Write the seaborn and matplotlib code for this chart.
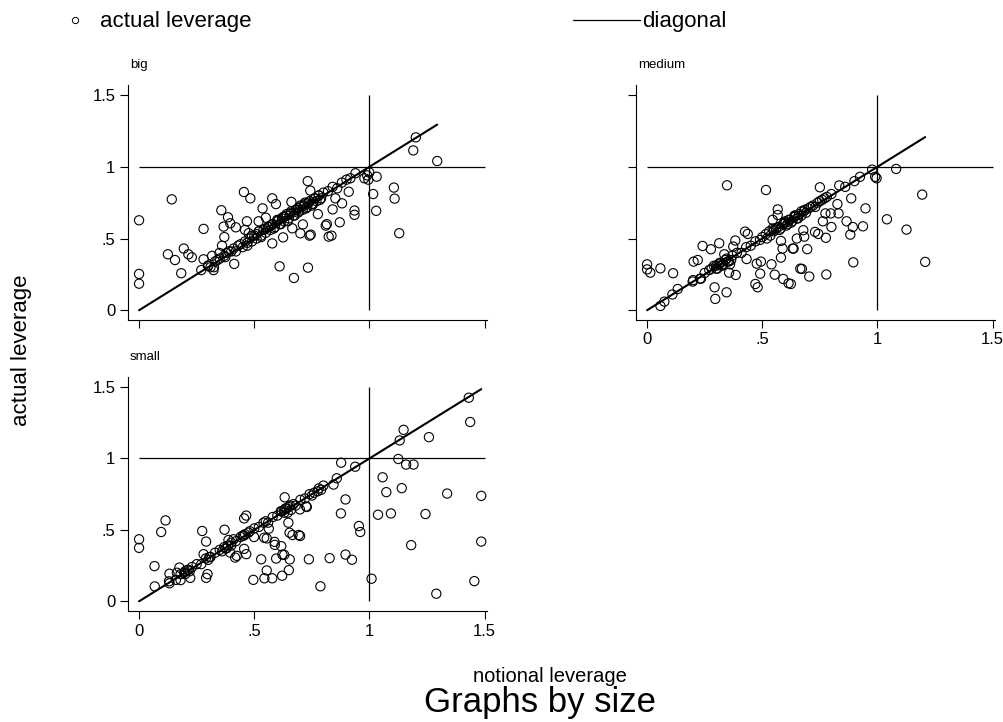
import numpy as np
import pandas as pd
import matplotlib
matplotlib.use("Agg")
import matplotlib.pyplot as plt
import seaborn as sns
from matplotlib.lines import Line2D

# ---------------- data ----------------
big_notional = [0.0, 0.0, 0.0, 0.142, 0.125, 0.156, 0.183, 0.194, 0.214, 0.229, 0.28, 0.28, 0.30, 0.323,
                0.325, 0.317, 0.349, 0.357, 0.367, 0.386, 0.396, 0.42, 0.413, 0.37, 0.374, 0.36, 0.455,
                0.483, 0.468, 0.46, 0.476, 0.519, 0.536, 0.55, 0.578, 0.594, 0.578, 0.61, 0.625, 0.661,
                0.665, 0.672, 0.70, 0.711, 0.732, 0.743, 0.74, 0.745, 0.733, 0.776, 0.823, 0.835, 0.815,
                0.81, 0.84, 0.871, 0.881, 0.935, 0.935, 0.91, 0.852, 1.016, 1.029, 1.031, 1.106, 1.109,
                1.129, 1.19, 1.294, 1.201,
                # near the diagonal
                0.27, 0.30, 0.31, 0.33, 0.35, 0.37, 0.38, 0.40, 0.41, 0.42, 0.44, 0.45, 0.46, 0.47,
                0.48, 0.49, 0.50, 0.51, 0.52, 0.53, 0.54, 0.55, 0.56, 0.57, 0.58, 0.59, 0.60, 0.61,
                0.62, 0.63, 0.64, 0.65, 0.66, 0.67, 0.68, 0.69, 0.70, 0.71, 0.72, 0.73, 0.74, 0.75,
                0.76, 0.77, 0.78, 0.79, 0.80, 0.82, 0.84, 0.86, 0.88, 0.90, 0.917, 0.939, 0.978, 0.99,
                0.999, 0.995, 0.55, 0.60, 0.63, 0.66, 0.69, 0.72, 0.75, 0.52, 0.58, 0.64, 0.70, 0.78,
                0.47, 0.49, 0.53, 0.565, 0.585, 0.605, 0.615, 0.625, 0.645, 0.655, 0.675, 0.685,
                0.695, 0.715, 0.725, 0.735, 0.755, 0.765, 0.785, 0.43, 0.39, 0.34, 0.51, 0.57]
big_actual = [0.627, 0.253, 0.185, 0.773, 0.39, 0.35, 0.258, 0.43, 0.39, 0.369, 0.567, 0.355, 0.312, 0.28,
              0.30, 0.379, 0.399, 0.697, 0.583, 0.648, 0.606, 0.578, 0.323, 0.51, 0.37, 0.45, 0.824,
              0.78, 0.62, 0.56, 0.537, 0.62, 0.71, 0.645, 0.78, 0.74, 0.466, 0.306, 0.508, 0.755,
              0.571, 0.225, 0.536, 0.598, 0.90, 0.834, 0.52, 0.527, 0.297, 0.67, 0.513, 0.52, 0.60,
              0.59, 0.703, 0.613, 0.745, 0.695, 0.665, 0.826, 0.78, 0.81, 0.693, 0.931, 0.855, 0.778,
              0.537, 1.114, 1.04, 1.205,
              0.28, 0.31, 0.30, 0.34, 0.36, 0.38, 0.40, 0.41, 0.43, 0.41, 0.46, 0.44, 0.48, 0.47,
              0.50, 0.48, 0.52, 0.50, 0.55, 0.52, 0.56, 0.54, 0.58, 0.56, 0.60, 0.58, 0.62, 0.60,
              0.64, 0.62, 0.66, 0.64, 0.68, 0.66, 0.70, 0.68, 0.72, 0.70, 0.74, 0.72, 0.76, 0.74,
              0.78, 0.76, 0.80, 0.78, 0.82, 0.83, 0.86, 0.85, 0.89, 0.91, 0.92, 0.955, 0.92, 0.94,
              0.96, 0.91, 0.57, 0.63, 0.65, 0.69, 0.71, 0.75, 0.73, 0.55, 0.60, 0.67, 0.73, 0.80,
              0.45, 0.52, 0.51, 0.58, 0.57, 0.63, 0.60, 0.65, 0.62, 0.67, 0.66, 0.70,
              0.69, 0.73, 0.71, 0.75, 0.74, 0.78, 0.77, 0.45, 0.41, 0.35, 0.53, 0.59]

medium_notional = [0.0, 0.0, 0.014, 0.058, 0.113, 0.058, 0.075, 0.11, 0.133, 0.198, 0.202, 0.22, 0.234,
                   0.241, 0.277, 0.313, 0.293, 0.296, 0.345, 0.347, 0.356, 0.385, 0.335, 0.36, 0.383,
                   0.374, 0.432, 0.425, 0.437, 0.47, 0.48, 0.476, 0.494, 0.491, 0.516, 0.54, 0.554,
                   0.581, 0.588, 0.581, 0.591, 0.614, 0.567, 0.567, 0.636, 0.632, 0.65, 0.665, 0.545,
                   0.56, 0.624, 0.672, 0.704, 0.778, 0.895, 0.695, 0.682, 0.678, 0.729, 0.743, 0.776,
                   0.763, 0.80, 0.882, 0.893, 0.937, 0.866, 0.797, 0.774, 0.831, 0.826, 0.948, 0.886,
                   0.75, 1.081, 1.194, 1.041, 1.126, 1.207,
                   # near the diagonal
                   0.20, 0.23, 0.25, 0.27, 0.28, 0.29, 0.30, 0.31, 0.32, 0.33, 0.34, 0.35, 0.37, 0.39,
                   0.41, 0.43, 0.45, 0.47, 0.49, 0.50, 0.52, 0.53, 0.55, 0.56, 0.57, 0.58, 0.59, 0.60,
                   0.61, 0.62, 0.63, 0.64, 0.65, 0.66, 0.67, 0.68, 0.69, 0.70, 0.72, 0.74, 0.76, 0.78,
                   0.80, 0.834, 0.86, 0.90, 0.924, 0.977, 0.99, 0.996, 0.30, 0.33, 0.55, 0.60, 0.64,
                   0.67, 0.71, 0.305, 0.315, 0.325, 0.345, 0.355, 0.365, 0.515, 0.535, 0.545, 0.575,
                   0.595, 0.605, 0.615, 0.625, 0.645, 0.655, 0.685, 0.73, 0.75, 0.77]
medium_actual = [0.32, 0.285, 0.262, 0.292, 0.258, 0.03, 0.06, 0.11, 0.148, 0.20, 0.339, 0.35, 0.22,
                 0.448, 0.425, 0.467, 0.16, 0.079, 0.125, 0.871, 0.262, 0.246, 0.39, 0.32, 0.486,
                 0.444, 0.357, 0.548, 0.532, 0.183, 0.16, 0.325, 0.339, 0.255, 0.838, 0.32, 0.248,
                 0.367, 0.43, 0.483, 0.218, 0.188, 0.703, 0.664, 0.43, 0.43, 0.50, 0.29, 0.63,
                 0.57, 0.183, 0.288, 0.235, 0.249, 0.334, 0.426, 0.513, 0.558, 0.546, 0.532, 0.505,
                 0.62, 0.58, 0.527, 0.58, 0.585, 0.62, 0.675, 0.675, 0.675, 0.74, 0.71, 0.78,
                 0.857, 0.985, 0.806, 0.634, 0.562, 0.337,
                 0.21, 0.22, 0.26, 0.28, 0.29, 0.31, 0.29, 0.32, 0.33, 0.32, 0.35, 0.34, 0.38, 0.40,
                 0.40, 0.44, 0.45, 0.48, 0.49, 0.51, 0.50, 0.55, 0.55, 0.57, 0.58, 0.57, 0.60, 0.61,
                 0.60, 0.63, 0.62, 0.65, 0.64, 0.67, 0.66, 0.69, 0.68, 0.71, 0.73, 0.75, 0.77, 0.79,
                 0.81, 0.87, 0.86, 0.90, 0.93, 0.98, 0.93, 0.92, 0.31, 0.32, 0.56, 0.62, 0.66,
                 0.69, 0.72, 0.29, 0.33, 0.31, 0.36, 0.34, 0.35, 0.53, 0.52, 0.57, 0.56,
                 0.61, 0.59, 0.63, 0.61, 0.66, 0.64, 0.70, 0.72, 0.76, 0.78]

small_notional = [0.0, 0.0, 0.067, 0.068, 0.096, 0.115, 0.132, 0.132, 0.164, 0.175, 0.18, 0.222, 0.274,
                  0.291, 0.291, 0.297, 0.28, 0.371, 0.388, 0.41, 0.395, 0.417, 0.424, 0.456, 0.465,
                  0.456, 0.465, 0.499, 0.496, 0.53, 0.543, 0.554, 0.563, 0.554, 0.544, 0.578, 0.588,
                  0.589, 0.617, 0.595, 0.622, 0.63, 0.654, 0.65, 0.621, 0.632, 0.648, 0.653, 0.666,
                  0.693, 0.698, 0.725, 0.737, 0.787, 0.699, 0.728, 0.827, 0.896, 0.924, 0.954, 0.96,
                  0.876, 0.896, 0.858, 0.844, 0.877, 1.009, 1.29, 1.455, 1.181, 1.485, 1.037, 1.093,
                  1.243, 1.057, 1.073, 1.14, 1.337, 1.485, 1.125, 1.159, 1.191, 1.131, 1.148, 1.258,
                  1.437, 1.431,
                  # near the diagonal
                  0.13, 0.16, 0.18, 0.20, 0.21, 0.22, 0.23, 0.25, 0.27, 0.29, 0.31, 0.33, 0.35, 0.36,
                  0.37, 0.38, 0.40, 0.42, 0.44, 0.45, 0.46, 0.48, 0.50, 0.52, 0.54, 0.55, 0.56, 0.58,
                  0.60, 0.62, 0.63, 0.64, 0.65, 0.66, 0.67, 0.68, 0.70, 0.72, 0.74, 0.76, 0.78, 0.79,
                  0.80, 0.938, 0.20, 0.30, 0.40, 0.63, 0.75, 0.195, 0.215, 0.305, 0.375, 0.385, 0.455,
                  0.475, 0.615, 0.635, 0.645, 0.655, 0.775]
small_actual = [0.434, 0.374, 0.246, 0.104, 0.485, 0.566, 0.193, 0.126, 0.20, 0.236, 0.148, 0.164, 0.492,
                0.418, 0.164, 0.19, 0.33, 0.501, 0.429, 0.434, 0.341, 0.306, 0.318, 0.58, 0.60,
                0.367, 0.33, 0.45, 0.15, 0.294, 0.445, 0.44, 0.508, 0.216, 0.161, 0.161, 0.416,
                0.395, 0.386, 0.299, 0.327, 0.325, 0.293, 0.218, 0.179, 0.728, 0.55, 0.48, 0.464,
                0.464, 0.643, 0.664, 0.294, 0.105, 0.457, 0.66, 0.302, 0.327, 0.291, 0.527, 0.485,
                0.615, 0.713, 0.861, 0.817, 0.97, 0.158, 0.053, 0.141, 0.393, 0.418, 0.606, 0.615,
                0.611, 0.868, 0.764, 0.792, 0.754, 0.738, 0.996, 0.957, 0.957, 1.126, 1.20, 1.149,
                1.255, 1.425,
                0.14, 0.15, 0.19, 0.19, 0.22, 0.21, 0.24, 0.26, 0.26, 0.30, 0.31, 0.34, 0.36, 0.35,
                0.38, 0.37, 0.41, 0.42, 0.45, 0.46, 0.47, 0.49, 0.51, 0.52, 0.55, 0.56, 0.55, 0.59,
                0.60, 0.63, 0.62, 0.65, 0.66, 0.64, 0.68, 0.67, 0.71, 0.72, 0.75, 0.76, 0.79, 0.78,
                0.81, 0.942, 0.21, 0.29, 0.39, 0.64, 0.74, 0.20, 0.22, 0.31, 0.37, 0.39, 0.46,
                0.48, 0.63, 0.65, 0.62, 0.67, 0.77]

panel_names = ["big", "medium", "small"]
tick_values = [0, 0.5, 1, 1.5]
tick_labels = ["0", ".5", "1", "1.5"]
ref_level = 1.0

# ---------------- style ----------------
sns.set_style("white")
plt.rcParams['font.family'] = ['Liberation Sans', 'DejaVu Sans']
plt.rcParams['text.color'] = 'black'
plt.rcParams['axes.labelcolor'] = 'black'
plt.rcParams['xtick.color'] = 'black'
plt.rcParams['ytick.color'] = 'black'

W, H = 1004, 722
fig = plt.figure(figsize=(W / 100, H / 100), dpi=100)

def px_axes(left, top, right, bottom):
    return fig.add_axes([left / W, 1 - bottom / H, (right - left) / W, (bottom - top) / H])

frames = {
    "big": (px_axes(128, 85, 487, 320), big_notional, big_actual, True, False),
    "medium": (px_axes(636, 85, 995, 320), medium_notional, medium_actual, False, True),
    "small": (px_axes(128, 377, 487, 611), small_notional, small_actual, True, True),
}

for name in panel_names:
    ax, xs, ys, ylab, xlab = frames[name]
    df = pd.DataFrame({"notional": xs, "actual": ys})
    ax.hlines(ref_level, tick_values[0], tick_values[-1], color="black", lw=0.9, zorder=1)
    ax.vlines(ref_level, tick_values[0], tick_values[-1], color="black", lw=0.9, zorder=1)
    sns.scatterplot(data=df, x="notional", y="actual", ax=ax, marker="o", s=44,
                    facecolor="none", edgecolor="black", linewidth=0.8, zorder=2, legend=False)
    sns.lineplot(data=df, x="notional", y="notional", ax=ax, color="black", lw=1.5,
                 estimator=None, sort=True, zorder=3, legend=False)
    ax.set_xlim(-0.048, 1.51)
    ax.set_ylim(-0.068, 1.57)
    ax.set_xticks(tick_values)
    ax.set_yticks(tick_values)
    ax.set_xticklabels(tick_labels if xlab else [])
    ax.set_yticklabels(tick_labels if ylab else [])
    ax.set_xlabel("")
    ax.set_ylabel("")
    for s in ["top", "right"]:
        ax.spines[s].set_visible(False)
    for s in ["left", "bottom"]:
        ax.spines[s].set_color("black")
        ax.spines[s].set_linewidth(0.8)
    ax.tick_params(axis="both", which="major", direction="out", length=6, width=0.8,
                   color="black", labelcolor="black", labelsize=12, left=True, bottom=True, pad=3)
    ax.set_facecolor("white")
    pos = ax.get_position()
    fig.text(pos.x0 + 2 / W, pos.y1 + 14 / H, name, fontsize=9.5, ha="left", va="bottom")

# legend
LEG_FS = 16
em = LEG_FS * 100 / 72.0
h1 = Line2D([], [], marker="o", linestyle="none", markerfacecolor="none",
            markeredgecolor="black", markersize=4.5, markeredgewidth=0.7)
h2 = Line2D([], [], color="black", lw=0.9)
fig.legend([h1], ["actual leverage"], loc="center left",
           bbox_to_anchor=((75 - em / 2) / W, 1 - 22 / H),
           frameon=False, fontsize=LEG_FS, handlelength=1.0,
           handletextpad=(100 - 75 - em / 2) / em,
           borderpad=0, borderaxespad=0)
fig.legend([h2], ["diagonal"], loc="center left", bbox_to_anchor=(573 / W, 1 - 22 / H),
           frameon=False, fontsize=LEG_FS, handlelength=67 / em, handletextpad=2 / em,
           borderpad=0, borderaxespad=0)

fig.text(22 / W, 1 - 350 / H, "actual leverage", rotation=90, fontsize=16, ha="center", va="center")
fig.text(550 / W, 1 - 682 / H, "notional leverage", fontsize=14.5, ha="center", va="baseline")
fig.text(540 / W, 1 - 712 / H, "Graphs by size", fontsize=25, ha="center", va="baseline")

fig.savefig("out.png", dpi=100, facecolor="white")
